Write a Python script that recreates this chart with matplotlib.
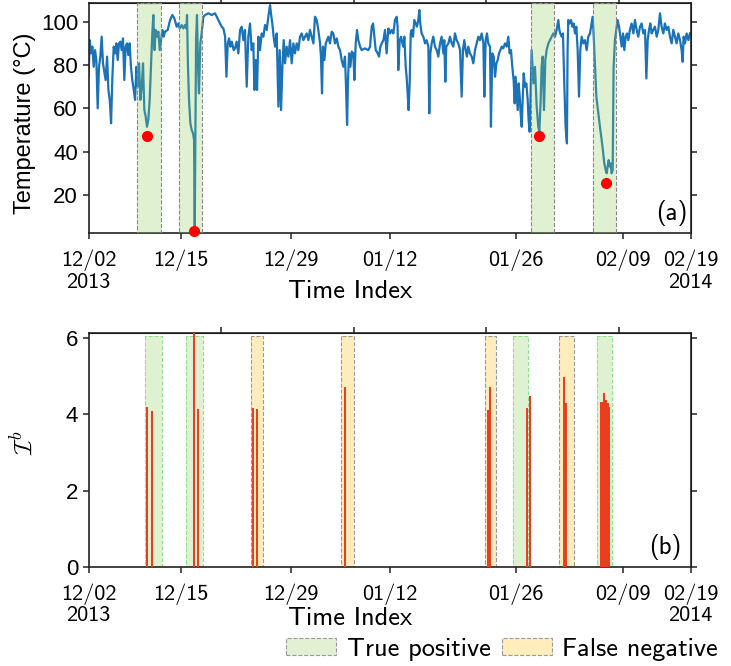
import matplotlib
matplotlib.use('Agg')
import matplotlib.pyplot as plt
from matplotlib.patches import Patch

plt.rcParams['font.family'] = ['cmss10', 'DejaVu Sans']
plt.rcParams['mathtext.fontset'] = 'cm'
plt.rcParams['axes.unicode_minus'] = False

# ---- data ----
temp_idx = [0, 9, 19, 29, 39, 49, 59, 69, 79, 89, 99, 109, 119, 129, 140, 150, 160, 170, 180, 190,
            200, 210, 220, 230, 240, 250, 260, 270, 280, 290, 300, 310, 320, 330, 341, 351, 361, 371, 381, 391,
            401, 411, 421, 431, 441, 451, 461, 471, 481, 489, 497, 507, 517, 527, 537, 547, 557, 567, 577, 597,
            615, 632, 647, 665, 678, 688, 703, 715, 728, 738, 743, 750, 758, 768, 778, 788, 796, 801, 811, 818,
            826, 833, 843, 853, 866, 879, 904, 929, 954, 967, 979, 992, 1004, 1017, 1030, 1040, 1050, 1060, 1070, 1080,
            1095,
            1105, 1117, 1130, 1143, 1155, 1168, 1180, 1193, 1205, 1218, 1230, 1243, 1251, 1261, 1271, 1281, 1293, 1306, 1319, 1331,
            1344, 1356, 1369, 1376, 1386, 1396, 1407, 1419, 1432, 1442, 1452, 1462, 1472, 1482, 1494, 1507, 1520, 1532, 1545, 1557,
            1570, 1582, 1595, 1608, 1620, 1633, 1645, 1658, 1670, 1683, 1696, 1708, 1721, 1733, 1746, 1753, 1761, 1768, 1779, 1789,
            1799, 1809, 1821, 1834, 1846, 1859, 1872, 1884, 1897, 1909, 1922, 1934, 1942, 1950, 1957, 1965, 1975, 1985, 1997, 2005,
            2015, 2025, 2035, 2048, 2060, 2085, 2110, 2123, 2136, 2146, 2156, 2166, 2181, 2191, 2201, 2211, 2224,
            2236, 2248, 2261, 2274, 2286, 2299, 2311, 2324, 2331, 2336, 2347, 2357, 2367, 2374, 2382, 2392, 2399, 2407, 2414, 2422,
            2430, 2437, 2447, 2457, 2467, 2477, 2487, 2495, 2502, 2512, 2525, 2538, 2550, 2563, 2570, 2578, 2588, 2600, 2613, 2626,
            2638, 2651, 2663, 2676, 2683, 2691, 2698, 2714, 2726, 2739, 2751, 2764, 2776, 2789, 2802, 2814, 2824, 2834, 2844, 2854,
            2864, 2877, 2890, 2902, 2915, 2927, 2940, 2952, 2965, 2978, 2985, 2995, 3005, 3015, 3028, 3035, 3045, 3056, 3066, 3076,
            3086, 3096, 3106, 3116, 3128, 3141, 3154, 3166, 3176, 3186, 3196, 3206, 3214, 3221, 3229, 3237, 3244, 3252, 3259, 3267,
            3274, 3282, 3292, 3302, 3312, 3319, 3327,
            3342, 3355, 3367, 3380, 3392, 3400, 3410, 3417, 3425, 3435, 3445, 3455, 3468, 3480, 3493, 3505,
            3518, 3530, 3543, 3551, 3558, 3568, 3578, 3588, 3598, 3608, 3613, 3618, 3628, 3639, 3649, 3659, 3669, 3679, 3689, 3699,
            3709, 3719, 3732, 3744, 3757, 3769, 3782, 3794, 3802, 3809, 3820, 3830, 3845, 3857, 3870, 3882, 3890, 3900, 3908, 3915,
            3923, 3930, 3938, 3945, 3953, 3960, 3970, 3980, 3990, 4001, 4011, 4021, 4031, 4041, 4051, 4061, 4071, 4083, 4096, 4109,
            4121, 4134, 4146, 4159, 4171, 4184, 4197, 4207, 4217, 4227, 4237, 4247, 4259, 4272, 4285, 4297, 4310, 4322, 4335, 4347,
            4360, 4373, 4385, 4398, 4410, 4423, 4435, 4448, 4461, 4473, 4481, 4488, 4498, 4511, 4524, 4536]
temp_val = [74.6, 91.5, 85.4, 88.5, 79.2, 86.9, 82.3, 60.0, 79.2, 83.9, 93.1, 80.8, 76.9, 73.1, 83.9, 68.5, 63.9, 53.1, 74.6, 88.5,
            85.4, 90.0, 82.3, 90.0, 90.8, 86.9, 92.3, 73.1, 88.5, 90.0, 84.6, 90.0, 79.2, 73.1, 68.5, 63.9, 79.2, 70.0, 80.8, 63.9,
            70.0, 80.8, 59.2, 56.2, 51.5, 54.6, 63.9, 79.2, 94.6, 103.1, 86.9, 96.2, 93.1, 95.4, 86.9, 91.5, 96.2, 93.1, 95.4, 96.2,
            100.8, 103.1, 101.6, 97.7, 99.2, 96.9, 98.5, 96.9, 98.5, 96.9, 103.1, 79.2, 63.9, 53.1, 50.0, 48.5, 45.4, 3.8, 91.5, 103.1,
            79.2, 66.9, 90.0, 94.6, 102.3, 103.1, 103.9, 103.1, 103.9, 102.3, 100.8, 99.2, 97.7, 96.9, 93.1, 74.6, 90.0, 92.3, 88.5, 90.8,
            86.9,
            87.7, 90.8, 85.4, 96.2, 97.7, 91.5, 96.2, 70.0, 93.1, 99.2, 86.9, 90.0, 68.5, 82.3, 68.5, 93.1, 86.9, 94.6, 93.1, 98.5,
            96.2, 102.3, 107.7, 103.9, 99.2, 93.1, 88.5, 94.6, 60.8, 86.9, 59.2, 79.2, 91.5, 80.8, 88.5, 83.9, 91.5, 80.8, 90.0, 85.4,
            90.0, 86.9, 93.1, 94.6, 91.5, 93.1, 94.6, 91.5, 96.2, 93.1, 90.0, 102.3, 100.8, 96.2, 90.0, 83.9, 66.9, 88.5, 82.3, 90.0,
            91.5, 93.1, 90.0, 95.4, 94.6, 90.0, 92.3, 88.5, 86.9, 82.3, 79.2, 83.9, 70.0, 52.3, 73.1, 85.4, 79.2, 86.2, 85.4, 73.1,
            90.0, 96.2, 91.5, 88.5, 86.9, 87.7, 86.9, 88.5, 97.7, 99.2, 93.1, 86.9, 85.4, 83.9, 88.5, 90.0, 91.5,
            96.2, 85.4, 96.9, 94.6, 96.2, 94.6, 100.8, 102.3, 97.7, 77.7, 91.5, 93.1, 90.0, 88.5, 93.1, 79.2, 74.6, 66.9, 59.2, 71.5,
            94.6, 96.2, 93.1, 100.8, 99.2, 97.7, 100.8, 105.4, 99.2, 94.6, 93.1, 90.0, 91.5, 88.5, 57.7, 85.4, 90.0, 93.1, 88.5, 86.9,
            83.9, 90.0, 93.1, 85.4, 91.5, 72.3, 88.5, 90.0, 93.1, 90.0, 88.5, 94.6, 91.5, 90.0, 86.9, 65.4, 86.9, 91.5, 86.9, 83.9,
            88.5, 85.4, 83.9, 80.8, 86.9, 90.0, 93.1, 91.5, 94.6, 90.0, 65.4, 91.5, 94.6, 90.0, 88.5, 51.5, 85.4, 83.9, 74.6, 80.8,
            82.3, 85.4, 86.9, 88.5, 87.7, 90.0, 88.5, 93.1, 85.4, 86.9, 79.2, 73.1, 62.3, 74.6, 66.9, 59.2, 71.5, 65.4, 57.7, 51.5,
            63.9, 76.2, 70.0, 71.5, 63.9, 54.6, 49.2,
            86.9, 71.5, 79.2, 60.8, 51.5, 49.2, 63.9, 79.2, 83.9, 59.2, 82.3, 86.9, 90.0, 91.5, 93.1, 94.6,
            93.1, 96.2, 100.8, 96.2, 94.6, 93.1, 94.6, 71.5, 51.5, 43.8, 86.9, 100.8, 99.2, 100.8, 97.7, 99.2, 94.6, 97.7, 86.9, 65.4,
            86.9, 93.1, 90.0, 91.5, 86.9, 93.1, 94.6, 99.2, 102.3, 94.6, 79.2, 65.4, 57.7, 51.5, 45.4, 39.2, 34.6, 31.5, 30.0, 33.1,
            36.1, 33.1, 34.6, 30.0, 31.5, 79.2, 91.5, 96.2, 100.8, 97.7, 93.1, 88.5, 94.6, 86.9, 93.1, 94.6, 91.5, 96.2, 99.2, 94.6,
            100.8, 96.2, 93.1, 97.7, 99.2, 94.6, 96.2, 73.8, 91.5, 96.2, 99.2, 94.6, 96.2, 97.7, 93.1, 96.2, 103.9, 97.7, 94.6, 99.2,
            96.2, 97.7, 93.1, 90.0, 96.2, 93.1, 90.0, 94.6, 91.5, 86.9, 81.5, 93.1, 90.0, 94.6, 91.5, 94.6]

anom_idx = [439, 799, 3397, 3902]
anom_val = [47.2, 3.5, 47.1, 25.5]

tp_top = [(362, 543), (686, 858), (3335, 3510), (3803, 3978)]

tp_bot = [(426, 557), (735, 866), (3201, 3317), (3835, 3950)]
fn_bot = [(1228, 1318), (1904, 2000), (2988, 3073), (3550, 3661)]

score_idx = [439, 481, 796, 826, 1243, 1268, 1934, 3013, 3030, 3304, 3329, 3586, 3603,
             3865, 3876, 3890, 3903, 3914, 3925]
score_val = [4.19, 4.10, 6.3, 4.13, 4.16, 4.13, 4.73, 4.12, 4.73, 4.16, 4.47, 4.97, 4.29,
             4.33, 4.33, 4.55, 4.37, 4.29, 4.19]

tick_idx = [0, 698, 1527, 2274, 3222, 4033, 4540]
tick_lab = ['12/02\n2013', '12/15', '12/29', '01/12', '01/26', '02/09', '02/19\n2014']
n_total = 4540

green = '#8fce5a'
yellow = '#ffc125'

fig = plt.figure(figsize=(7.31, 6.66), dpi=100)
ax1 = fig.add_axes([0.1211, 0.6497, 0.8235, 0.3453])
ax2 = fig.add_axes([0.1211, 0.1491, 0.8235, 0.3505])

# top panel
ax1.plot(temp_idx, temp_val, color='#1a72b8', lw=1.6, zorder=2)
for a, b in tp_top:
    ax1.axvspan(a, b, facecolor=green, alpha=0.27, zorder=3)
    ax1.axvspan(a, b, facecolor='none', edgecolor='#888888', ls='--', lw=0.8, zorder=3)
ax1.plot(anom_idx, anom_val, 'o', color='red', ms=7, zorder=5, clip_on=False)
ax1.set_ylim(2.3, 108.5)
ax1.set_yticks([20, 40, 60, 80, 100], labels=['20', '40', '60', '80', '100'],
               fontfamily='Liberation Sans', fontsize=16)
ax1.set_ylabel('Temperature (°C)', fontfamily='Liberation Sans', fontsize=17)
ax1.yaxis.set_label_coords(-0.088, 0.48)
ax1.text(0.995, 0.03, '(a)', transform=ax1.transAxes, ha='right', va='bottom', fontsize=18)

# bottom panel
for a, b in tp_bot:
    ax2.fill_between([a, b], 0, 6.05, facecolor=green, alpha=0.27, lw=0, zorder=1)
    ax2.fill_between([a, b], 0, 6.05, facecolor='none', edgecolor='#8fe08f', ls='--', lw=0.8, zorder=1)
for a, b in fn_bot:
    ax2.fill_between([a, b], 0, 6.05, facecolor=yellow, alpha=0.3, lw=0, zorder=1)
    ax2.fill_between([a, b], 0, 6.05, facecolor='none', edgecolor='#999999', ls='--', lw=0.8, zorder=1)
ax2.bar(score_idx, score_val, width=16, color='#e8401c', lw=0, zorder=3)
ax2.set_ylim(0, 6.13)
ax2.set_yticks([0, 2, 4, 6], labels=['0', '2', '4', '6'], fontfamily='Liberation Sans', fontsize=16)
ax2.set_ylabel(r'$\mathcal{I}^b$', fontsize=18)
ax2.yaxis.set_label_coords(-0.085, 0.53)
ax2.text(0.985, 0.03, '(b)', transform=ax2.transAxes, ha='right', va='bottom', fontsize=18)

for ax, ly in ((ax1, -0.251), (ax2, -0.22)):
    ax.set_xlim(0, n_total)
    ax.set_xticks(tick_idx, labels=tick_lab, fontsize=16, linespacing=1.1)
    ax.set_xlabel('Time Index', fontsize=19)
    ax.xaxis.label.set_va('center')
    ax.xaxis.set_label_coords(0.434, ly)
    for s in ax.spines.values():
        s.set_linewidth(1.2)
        s.set_color('#222222')
    ax.tick_params(width=1.1, length=4, color='#222222')
    ax.tick_params(axis='x', pad=8)
    top = ax.secondary_xaxis('top')
    top.set_xticks([1000, 2000, 3000, 4000], labels=[])
    top.tick_params(width=1.1, length=4, color='#222222')
    right = ax.secondary_yaxis('right')
    right.set_yticks(ax.get_yticks(), labels=[])
    right.tick_params(width=1.1, length=4, color='#222222')

handles = [Patch(facecolor='#e2f1d4', edgecolor='#999999', ls='--', lw=0.8, label='True positive'),
           Patch(facecolor='#ffedbc', edgecolor='#999999', ls='--', lw=0.8, label='False negative')]
fig.legend(handles=handles, loc='center left', bbox_to_anchor=(0.3912, 0.0255), ncol=2,
           frameon=False, fontsize=19, borderpad=0, borderaxespad=0,
           handlelength=1.9, handleheight=0.64, handletextpad=0.4, columnspacing=0.42)

fig.savefig('out.png', dpi=100)
